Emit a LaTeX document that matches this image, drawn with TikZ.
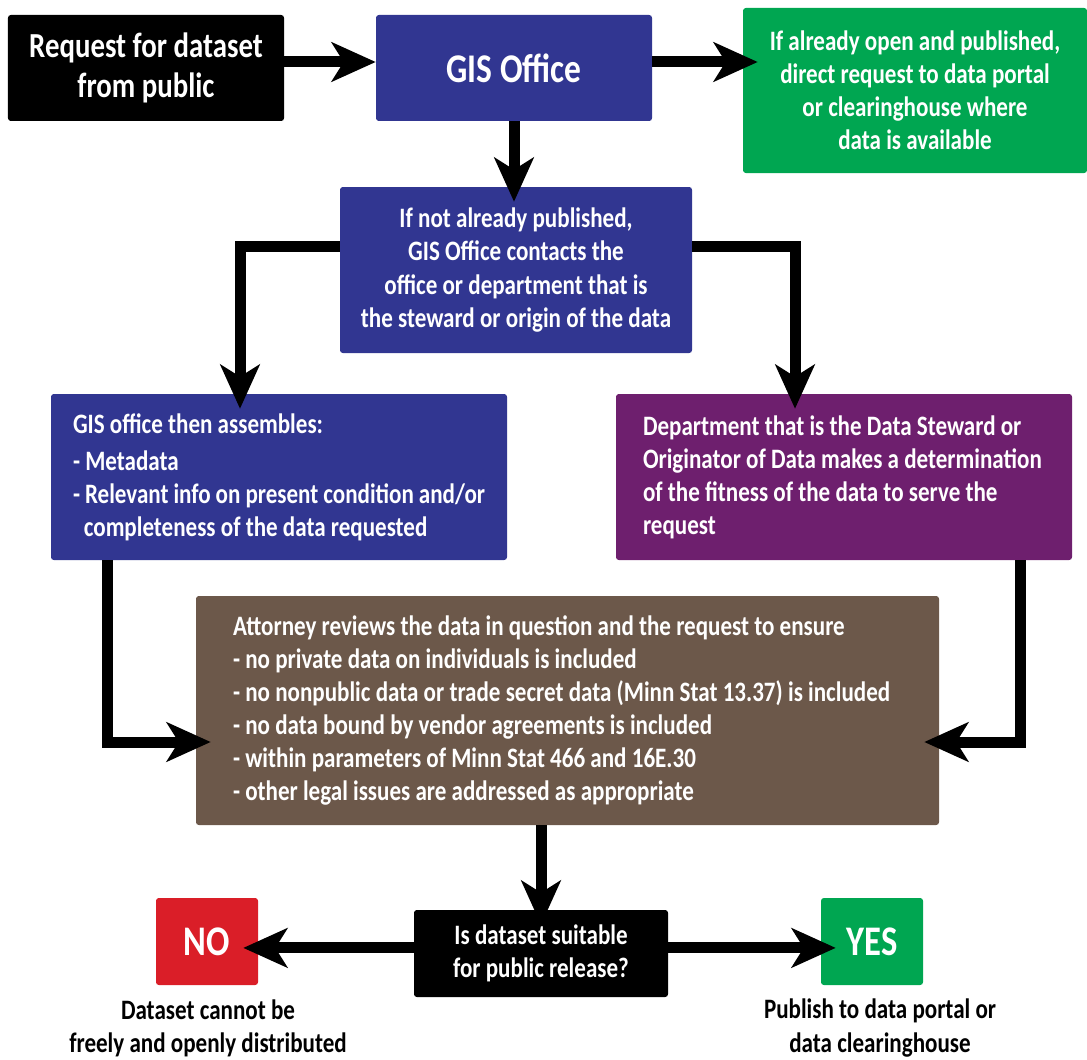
\documentclass[tikz,border=0pt]{standalone}
\usepackage{fontspec}
\setmainfont{Carlito}[FakeStretch=0.82]
\usepackage{tikz}
\usetikzlibrary{positioning,arrows.meta}

\definecolor{gisblue}{RGB}{49,54,145}
\definecolor{okgreen}{RGB}{0,166,81}
\definecolor{stewardpurple}{RGB}{110,31,110}
\definecolor{lawbrown}{RGB}{108,88,74}
\definecolor{nored}{RGB}{218,30,40}

\begin{document}
\begin{tikzpicture}
	% Define styles
	\tikzset{box/.style={rounded corners=2pt, text=white, align=center, inner sep=0pt,
			font=\bfseries\fontsize{20}{23.5}\selectfont},
		listbox/.style={box, align=flush left, minimum width=#1},
		flowarrow/.style={line width=0.275cm, -{Stealth[length=1.1cm, width=0.98cm, inset=0.3cm]},
			shorten >=-0.375cm}}
	
	\useasboundingbox (0,0) rectangle (27.175,-26.475);
	
	% Top row
	\node[box, fill=black, minimum width=6.9cm, minimum height=2.65cm,
		font=\bfseries\fontsize{25}{28.5}\selectfont] (request) at (3.65,-1.7) {Request for dataset\\from public};
	\node[box, fill=gisblue, minimum width=6.9cm, minimum height=2.65cm,
		font=\bfseries\fontsize{29}{33}\selectfont] (gis) at (12.85,-1.7) {GIS Office};
	\node[box, fill=okgreen, minimum width=8.6cm, minimum height=4.125cm] (portal) at (22.875,-2.2625)
		{If already open and published,\\direct request to data portal\\or clearinghouse where\\data is available};
	
	% Contact the steward
	\node[box, fill=gisblue, minimum width=8.8cm, minimum height=4.15cm] (contact) at (12.9,-6.75)
		{If not already published,\\GIS Office contacts the\\office or department that is\\the steward or origin of the data};
	
	% Two branches
	\node[listbox=11.4cm, fill=gisblue, minimum height=4.15cm,
		text width=10.3cm, inner xsep=0.55cm] (assemble) at (6.975,-11.925)
		{GIS office then assembles:\\[3pt]- Metadata\\- Relevant info on present condition and/or\\\hspace*{0.27cm}completeness of the data requested};
	\node[listbox=11.4cm, fill=stewardpurple, minimum height=4.15cm,
		text width=10.05cm, inner xsep=0.675cm] (dept) at (21.1,-11.925)
		{Department that is the Data Steward or\\Originator of Data makes a determination\\of the fitness of the data to serve the\\request};
	
	% Legal review
	\node[listbox=18.575cm, fill=lawbrown, minimum height=5.725cm,
		text width=16.725cm, inner xsep=0.925cm] (attorney) at (14.1875,-17.7625)
		{Attorney reviews the data in question and the request to ensure\\
		- no private data on individuals is included\\
		- no nonpublic data or trade secret data (Minn Stat 13.37) is included\\
		- no data bound by vendor agreements is included\\
		- within parameters of Minn Stat 466 and 16E.30\\
		- other legal issues are addressed as appropriate};
	
	% Decision
	\node[box, fill=black, minimum width=6.35cm, minimum height=2.175cm] (decide) at (13.525,-23.8375)
		{Is dataset suitable\\for public release?};
	\node[box, fill=nored, minimum width=2.55cm, minimum height=2.175cm,
		font=\bfseries\fontsize{30}{34}\selectfont] (no) at (5.175,-23.5375) {NO};
	\node[box, fill=okgreen, minimum width=2.55cm, minimum height=2.175cm,
		font=\bfseries\fontsize{30}{34}\selectfont] (yes) at (21.8,-23.5375) {YES};
	\node[box, text=black] (nocap) at (5.2,-25.7) {Dataset cannot be\\freely and openly distributed};
	\node[box, text=black] (yescap) at (22.0,-25.7) {Publish to data portal or\\data clearinghouse};
	
	% Connectors
	\draw[flowarrow, shorten >=0pt] ([yshift=0.15cm]request.east) -- ([yshift=0.15cm]gis.west);
	\draw[flowarrow] ([yshift=0.15cm]gis.east) -- ([yshift=0.15cm]gis.east -| portal.west);
	\draw[flowarrow] (gis.south) -- (gis.south |- contact.north);
	\draw[flowarrow] ([yshift=0.6cm]contact.west) -| ([xshift=-0.975cm]assemble.north);
	\draw[flowarrow] ([yshift=0.6cm]contact.east) -| ([xshift=-1.225cm]dept.north);
	\draw[flowarrow] ([xshift=-4.3cm]assemble.south) |- ([yshift=-0.7875cm]attorney.west);
	\draw[flowarrow] ([xshift=4.4cm]dept.south) |- ([yshift=-0.7875cm]attorney.east);
	\draw[flowarrow] (attorney.south -| decide.north) -- (decide.north);
	\draw[flowarrow] ([yshift=0.14cm]decide.west) -- ([yshift=0.14cm]decide.west -| no.east);
	\draw[flowarrow] ([yshift=0.14cm]decide.east) -- ([yshift=0.14cm]decide.east -| yes.west);
\end{tikzpicture}
\end{document}
